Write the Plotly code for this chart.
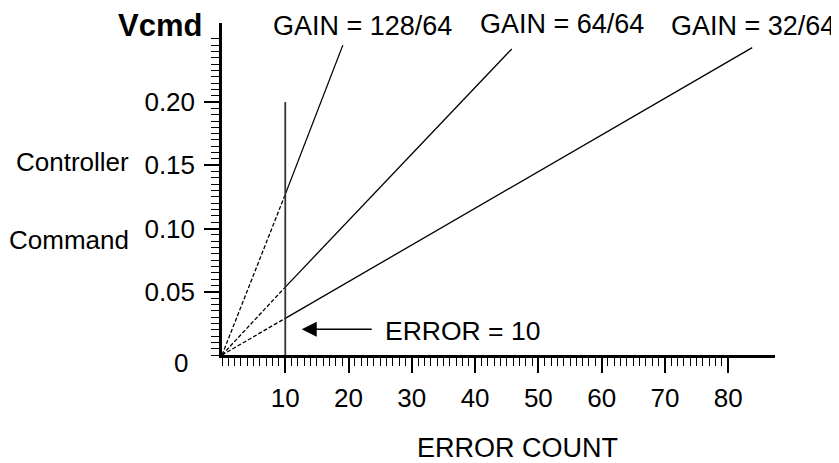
import plotly.graph_objects as go

# ---- data ----
gain_labels = ["GAIN = 128/64", "GAIN = 64/64", "GAIN = 32/64"]
cmd_at_error10 = [0.127, 0.0537, 0.029]     # Vcmd where each line crosses ERROR = 10
line_end_x = [19.1, 45.8, 83.8]
line_end_y = [0.245, 0.242, 0.243]
error_marker = 10
error_marker_top = 0.20

x_ticks = [0, 10, 20, 30, 40, 50, 60, 70, 80]
x_tick_text = ["", "10", "20", "30", "40", "50", "60", "70", "80"]
y_ticks = [0, 0.05, 0.10, 0.15, 0.20, 0.25]
y_tick_text = ["", "0.05", "0.10", "0.15", "0.20", ""]
x_minor = list(range(0, 81))
y_minor = [i * 0.005 for i in range(0, 51)]

# label placement (paper fractions of the plot area)
gain_label_pos = [(0.2532, 0.991), (0.6148, 0.997), (0.9603, 0.991)]

FONT = "Arial, Liberation Sans, sans-serif"
fig = go.Figure()

for i in range(3):
    # dashed part: origin to ERROR = 10
    fig.add_trace(go.Scatter(x=[0, error_marker], y=[0, cmd_at_error10[i]], mode="lines",
                             line=dict(color="black", width=1.3, dash="4px,2px"),
                             showlegend=False, hoverinfo="skip"))
    # solid part: beyond ERROR = 10
    fig.add_trace(go.Scatter(x=[error_marker, line_end_x[i]], y=[cmd_at_error10[i], line_end_y[i]],
                             mode="lines", line=dict(color="black", width=1.3),
                             showlegend=False, hoverinfo="skip"))

# vertical ERROR = 10 marker
fig.add_trace(go.Scatter(x=[error_marker, error_marker], y=[0, error_marker_top], mode="lines",
                         line=dict(color="#333333", width=1.8), showlegend=False, hoverinfo="skip"))

def txt(x, y, text, size=27, xanchor="center"):
    return dict(x=x, y=y, xref="paper", yref="paper", text=text, showarrow=False,
                xanchor=xanchor, yanchor="middle", font=dict(size=size, color="black"))

ann = []
for i in range(3):
    ann.append(txt(gain_label_pos[i][0], gain_label_pos[i][1], gain_labels[i]))
ann.append(txt(-0.1121, 0.991, "<b>Vcmd</b>", size=31))
ann.append(txt(-0.1646, 0.5813, "Controller", size=26, xanchor="right"))
ann.append(txt(-0.1646, 0.3464, "Command", size=26, xanchor="right"))
ann.append(txt(-0.0579, -0.0241, "0", size=26, xanchor="right"))
ann.append(txt(0.2911, 0.0723, "ERROR = 10", size=26.5, xanchor="left"))
ann.append(txt(0.5335, -0.2801, "ERROR COUNT"))
ann.append(dict(x=12.6, y=0.0203, ax=23.9, ay=0.0203, axref="x", ayref="y", text="",
                showarrow=True, arrowhead=2, arrowsize=2, arrowwidth=1.5, arrowcolor="black"))

axis_common = dict(showgrid=False, zeroline=False, showline=True, linecolor="black", linewidth=2.5,
                   ticks="outside", ticklen=15, tickwidth=1.5, tickcolor="black",
                   tickfont=dict(size=26, color="black", family=FONT), fixedrange=True)

fig.update_layout(
    width=839, height=463,
    margin=dict(l=214, r=72, t=15, b=116),
    paper_bgcolor="white", plot_bgcolor="white",
    font=dict(family=FONT, color="black"),
    xaxis=dict(range=[0, 87.4], tickmode="array", tickvals=x_ticks, ticktext=x_tick_text,
               ticklabelstandoff=3,
               minor=dict(tickmode="array", tickvals=x_minor, ticks="outside", ticklen=8,
                          tickwidth=1, tickcolor="black", showgrid=False),
               **axis_common),
    yaxis=dict(range=[0, 0.2625], tickmode="array", tickvals=y_ticks, ticktext=y_tick_text,
               ticklabelstandoff=4,
               minor=dict(tickmode="array", tickvals=y_minor, ticks="outside", ticklen=8,
                          tickwidth=1, tickcolor="black", showgrid=False),
               **axis_common),
    annotations=ann,
)

fig.write_html("out.html")
